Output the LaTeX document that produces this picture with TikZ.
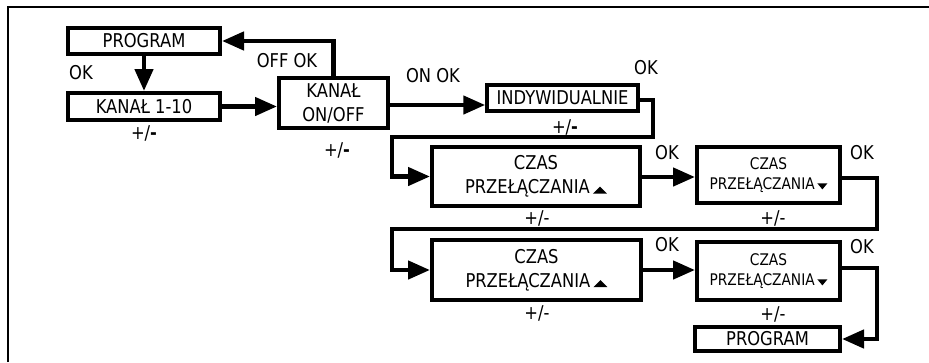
\documentclass[tikz,border=0pt]{standalone}
\usepackage{fontspec}
\setmainfont{DejaVu Sans}[FakeStretch=0.86]
\usetikzlibrary{arrows.meta}
\newcommand\uptri{\,\tikz[baseline=0pt]\fill (0pt,0pt)--(14pt,0pt)--(7pt,7pt)--cycle;}
\newcommand\dntri{\,\tikz[baseline=0pt]\fill (0pt,6pt)--(10pt,6pt)--(5pt,0pt)--cycle;}
\tikzset{
  box/.style={draw, line width=4pt, inner sep=0pt, align=center, font=\fontsize{19}{24}\selectfont},
  smallbox/.style={box, font=\fontsize{16}{20}\selectfont},
  lbl/.style={inner sep=0pt, font=\fontsize{19}{22}\selectfont},
  arr/.style={line width=4.5pt, -{Triangle[length=22pt,width=18pt]}, line join=miter},
  frameline/.style={line width=2pt}
}
\begin{document}
\begin{tikzpicture}[x=1pt,y=-1pt]
\useasboundingbox (0,0) rectangle (929,362);
\draw[frameline] (8,362) -- (8,7) -- (929,7);
% boxes
\node[box, minimum width=152pt, minimum height=26pt] (p1) at (144,41) {PROGRAM};
\node[box, minimum width=152pt, minimum height=27pt] (k1) at (144,106.5) {KANAŁ 1-10};
\node[box, minimum width=109pt, minimum height=50pt] (k2) at (333.5,103) {KANAŁ\\ON/OFF};
\node[box, line width=3.5pt, minimum width=151pt, minimum height=26pt] (ind) at (562.5,98) {INDYWIDUALNIE};
\node[box, minimum width=208pt, minimum height=59pt] (c1) at (536,176.5) {CZAS\\PRZEŁĄCZANIA\uptri};
\node[smallbox, minimum width=143pt, minimum height=56pt] (c2) at (768.5,175) {CZAS\\PRZEŁĄCZANIA\dntri};
\node[box, minimum width=209pt, minimum height=60pt] (c3) at (536.5,270) {CZAS\\PRZEŁĄCZANIA\uptri};
\node[smallbox, minimum width=143pt, minimum height=58pt] (c4) at (768.5,271) {CZAS\\PRZEŁĄCZANIA\dntri};
\node[box, minimum width=145pt, minimum height=24pt] (p2) at (767.5,339) {PROGRAM};
% corner coordinates
\coordinate (a1) at (653,137);
\coordinate (a2) at (392,176.5);
\coordinate (b1) at (877,229);
\coordinate (b2) at (392,270);
\coordinate (d1) at (877,339);
% connectors
\draw[arr] (p1.south) -- (k1.north);
\draw[arr] (k1.east) -- (k2.west |- k1.east);
\draw[arr] (k2.north) |- (p1.east);
\draw[arr] (k2.east |- 0,105) -- (ind.west |- 0,105);
\draw[arr] (ind.east |- 0,100) -| (a1) -| (a2) -- (c1.west);
\draw[arr] (c1.east |- 0,177) -- (c2.west |- 0,177);
\draw[arr] (c2.east |- 0,178) -| (b1) -| (b2) -- (c3.west);
\draw[arr] (c3.east) -- (c4.west |- c3.east);
\draw[arr] (c4.east |- 0,268) -| (d1) -- (p2.east);
% labels
\node[lbl] (l1) at (81,73) {OK};
\node[lbl] (l2) at (144,133) {+/\textbf{-}};
\node[lbl] (l3) at (287,61) {OFF OK};
\node[lbl] (l4) at (433,76) {ON OK};
\node[lbl] (l5) at (337,150) {+/\textbf{-}};
\node[lbl] (l6) at (646,68) {OK};
\node[lbl] (l7) at (565,127) {+/\textbf{-}};
\node[lbl] (l8) at (667,153) {OK};
\node[lbl] (l9) at (537,218) {+/-};
\node[lbl] (l10) at (862,153) {OK};
\node[lbl] (l11) at (773,218) {+/-};
\node[lbl] (l12) at (667,245) {OK};
\node[lbl] (l13) at (537,313) {+/-};
\node[lbl] (l14) at (862,247) {OK};
\node[lbl] (l15) at (773,314) {+/-};
\end{tikzpicture}
\end{document}
